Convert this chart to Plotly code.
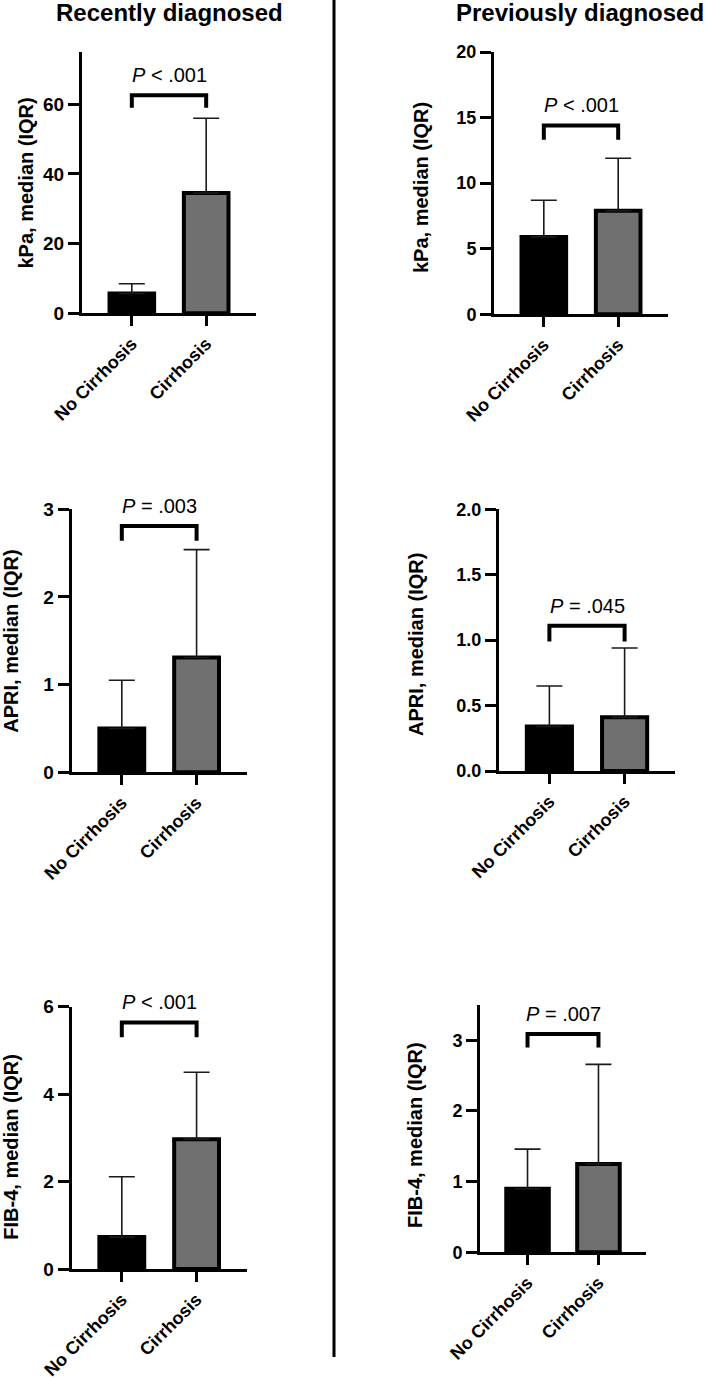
import plotly.graph_objects as go

W, H = 709, 1379

categories = ["No Cirrhosis", "Cirrhosis"]

# medians and upper quartiles (Q3) for each panel
kpa_recent_median = [5.7, 34.5]
kpa_recent_q3 = [8.5, 56.0]
kpa_prev_median = [5.9, 7.9]
kpa_prev_q3 = [8.7, 11.9]
apri_recent_median = [0.50, 1.31]
apri_recent_q3 = [1.05, 2.54]
apri_prev_median = [0.34, 0.41]
apri_prev_q3 = [0.65, 0.94]
fib4_recent_median = [0.73, 2.97]
fib4_recent_q3 = [2.11, 4.50]
fib4_prev_median = [0.90, 1.25]
fib4_prev_q3 = [1.46, 2.66]

p_labels = ["<i>P</i> &lt; .001", "<i>P</i> &lt; .001", "<i>P</i> = .003",
            "<i>P</i> = .045", "<i>P</i> &lt; .001", "<i>P</i> = .007"]
# bracket heights (data units): top of bracket, bottom of legs
bracket_top = [62.6, 14.4, 2.81, 1.11, 5.64, 3.09]
bracket_leg = [59.0, 13.3, 2.64, 0.99, 5.30, 2.90]

y_titles = ["kPa, median (IQR)", "kPa, median (IQR)", "APRI, median (IQR)",
            "APRI, median (IQR)", "FIB-4, median (IQR)", "FIB-4, median (IQR)"]
y_ranges = [[0, 75], [0, 20], [0, 3], [0, 2], [0, 6], [0, 3.5]]
y_dticks = [20, 5, 1, 0.5, 2, 1]
y_formats = ["d", "d", "d", ".1f", "d", "d"]
column_titles = ["Recently diagnosed", "Previously diagnosed"]

medians = [kpa_recent_median, kpa_prev_median, apri_recent_median,
           apri_prev_median, fib4_recent_median, fib4_prev_median]
q3s = [kpa_recent_q3, kpa_prev_q3, apri_recent_q3,
       apri_prev_q3, fib4_recent_q3, fib4_prev_q3]

# panel layout in pixels: x0, x1, ytop, ybottom ; y-title pixel center
panels_px = [
    (82, 256, 52, 313.3),
    (494, 668, 52, 314.3),
    (71.7, 246.7, 509.3, 772.3),
    (499, 675, 509.3, 771),
    (71.7, 246.7, 1006.7, 1269),
    (480, 646, 1005, 1252.3),
]
ytitle_px = [(25, 183.5), (421, 188), (11, 641.7), (416, 645), (11, 1146.7), (415, 1135)]
tick_sizes = [19, 18, 19, 18, 19, 18]

FONT = "Liberation Sans, Arial, sans-serif"
bar_colors = ["#000000", "#707070"]

fig = go.Figure()
annotations = []
layout = {}

for i in range(6):
    xa = "x" if i == 0 else f"x{i+1}"
    ya = "y" if i == 0 else f"y{i+1}"
    x0, x1, yt, yb = panels_px[i]
    med = medians[i]
    q3 = q3s[i]
    fig.add_trace(go.Bar(
        x=[0, 1], y=med, xaxis=xa, yaxis=ya, width=0.6,
        marker=dict(color=bar_colors, line=dict(color="black", width=4)),
        error_y=dict(type="data", symmetric=False,
                     array=[q - m for q, m in zip(q3, med)],
                     arrayminus=[0, 0], color="#1a1a1a", thickness=1.6, width=13),
        showlegend=False, hoverinfo="skip",
    ))
    # significance bracket
    fig.add_trace(go.Scatter(
        x=[0, 0, 1, 1],
        y=[bracket_leg[i], bracket_top[i], bracket_top[i], bracket_leg[i]],
        xaxis=xa, yaxis=ya, mode="lines",
        line=dict(color="black", width=4), showlegend=False, hoverinfo="skip",
        cliponaxis=False,
    ))
    annotations.append(dict(
        x=0.5, y=bracket_top[i], xref=xa, yref=ya, text=p_labels[i],
        showarrow=False, xanchor="center", yanchor="bottom", yshift=7,
        font=dict(family=FONT, size=20, color="black"),
    ))
    tx, ty = ytitle_px[i]
    annotations.append(dict(
        x=tx / W, y=1 - ty / H, xref="paper", yref="paper", text=y_titles[i],
        textangle=-90, showarrow=False, xanchor="center", yanchor="middle",
        font=dict(family=FONT, size=20, color="black", weight="bold"),
    ))
    axkey = "xaxis" if i == 0 else f"xaxis{i+1}"
    aykey = "yaxis" if i == 0 else f"yaxis{i+1}"
    layout[axkey] = dict(
        domain=[x0 / W, x1 / W], anchor=ya, range=[-0.67, 1.67],
        tickvals=[0, 1], ticktext=categories, tickangle=-45,
        showline=True, linewidth=3, linecolor="black",
        ticks="outside", ticklen=10, tickwidth=3, tickcolor="black",
        showgrid=False, zeroline=False, automargin=False, fixedrange=True,
        tickfont=dict(family=FONT, size=18, color="black", weight="bold"),
    )
    layout[aykey] = dict(
        domain=[1 - yb / H, 1 - yt / H], anchor=xa, range=y_ranges[i],
        dtick=y_dticks[i], tick0=0, tickformat=y_formats[i],
        showline=True, linewidth=3, linecolor="black",
        ticks="outside", ticklen=11, tickwidth=3, tickcolor="black",
        showgrid=False, zeroline=False, automargin=False, fixedrange=True,
        tickfont=dict(family=FONT, size=tick_sizes[i], color="black", weight="bold"),
    )

# column titles
for cx, title in zip([169, 580], column_titles):
    annotations.append(dict(
        x=cx / W, y=1 - 12 / H, xref="paper", yref="paper", text=title,
        showarrow=False, xanchor="center", yanchor="middle",
        font=dict(family=FONT, size=24, color="black", weight="bold"),
    ))

fig.update_layout(
    width=W, height=H, margin=dict(l=0, r=0, t=0, b=0, autoexpand=False),
    paper_bgcolor="white", plot_bgcolor="white",
    annotations=annotations, bargap=0,
    shapes=[dict(type="line", xref="paper", yref="paper",
                 x0=334 / W, x1=334 / W, y0=1 - 1357 / H, y1=1.0,
                 line=dict(color="black", width=3))],
    **layout,
)

fig.write_html(
    "out.html",
    config={"displayModeBar": False, "staticPlot": True},
    post_script="document.body.style.margin='0';document.body.style.padding='0';"
                "document.documentElement.style.overflow='hidden';",
)
